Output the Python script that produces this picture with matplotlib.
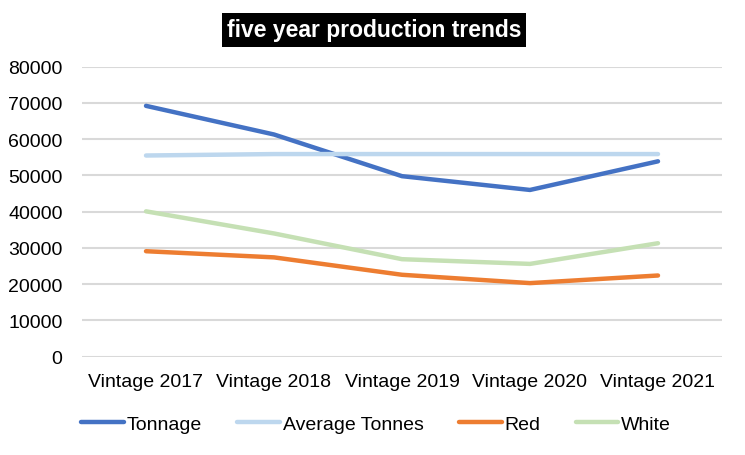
import matplotlib
matplotlib.use("Agg")
import matplotlib.pyplot as plt

# values
vintages = ["Vintage 2017", "Vintage 2018", "Vintage 2019", "Vintage 2020", "Vintage 2021"]
tonnage = [69200, 61300, 49800, 46000, 53900]
avg_tonnes = [55500, 55900, 55900, 55900, 55900]
red = [29100, 27400, 22600, 20300, 22400]
white = [40100, 34000, 26900, 25600, 31300]
y_ticks = [0, 10000, 20000, 30000, 40000, 50000, 60000, 70000, 80000]

plt.rcParams['font.family'] = ['Liberation Sans', 'DejaVu Sans']
fs = 14

fig = plt.figure(figsize=(7.45, 4.56), dpi=100)
ax = fig.add_axes([82 / 745, 1 - 357.7 / 456, 640 / 745, 290 / 456])

x = list(range(len(vintages)))
lw = 3.2
ax.plot(x, tonnage, color='#4472C4', lw=lw, label='Tonnage', solid_capstyle='round')
ax.plot(x, avg_tonnes, color='#BDD7EE', lw=lw, label='Average Tonnes', solid_capstyle='round')
ax.plot(x, red, color='#ED7D31', lw=lw, label='Red', solid_capstyle='round')
ax.plot(x, white, color='#C5E0B4', lw=lw, label='White', solid_capstyle='round')

ax.set_xlim(-0.5, len(vintages) - 0.5)
ax.set_ylim(0, 80000)
ax.set_yticks(y_ticks)
ax.set_yticklabels([str(v) for v in y_ticks])
ax.set_xticks(x)
ax.set_xticklabels(vintages)
ax.tick_params(axis='both', length=0, labelsize=fs, colors='black')
ax.tick_params(axis='y', pad=14)
ax.tick_params(axis='x', pad=12)
ax.grid(axis='y', color='#D9D9D9', lw=1.5)
ax.set_axisbelow(True)
for s in ax.spines.values():
    s.set_visible(False)

fig.text(0.502, 1 - 31 / 456, 'five year production trends', ha='center', va='center',
         fontsize=16.5, fontweight='bold', color='white',
         bbox=dict(boxstyle='square,pad=0.22', fc='black', ec='none'))

fig.legend(loc='center', bbox_to_anchor=(0.505, 1 - 425 / 456), ncol=4, frameon=False,
           fontsize=fs, handlelength=2.2, handletextpad=0.15, columnspacing=1.8)

fig.savefig('out.png', dpi=100)
